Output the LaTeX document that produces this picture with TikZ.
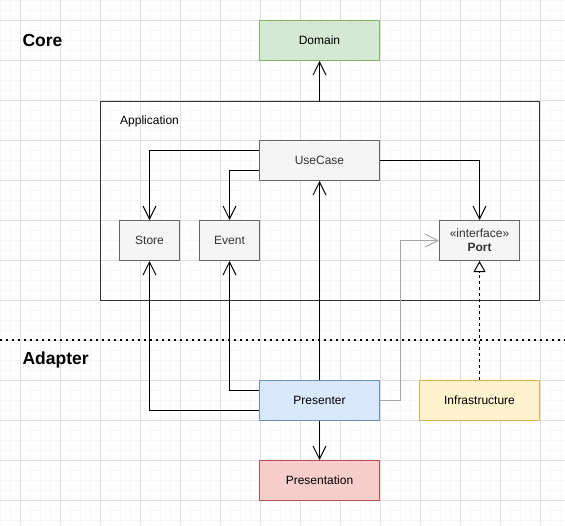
\documentclass[tikz,border=0pt]{standalone}
\usepackage{fontspec}
\setmainfont{Liberation Sans}
\usetikzlibrary{arrows.meta,calc}

\definecolor{gridminor}{HTML}{F7F7F7}
\definecolor{gridmajor}{HTML}{E0E0E0}
\definecolor{greenfill}{HTML}{D5E8D4}
\definecolor{greenline}{HTML}{82B366}
\definecolor{grayfill}{HTML}{F5F5F5}
\definecolor{grayline}{HTML}{666666}
\definecolor{bluefill}{HTML}{DAE8FC}
\definecolor{blueline}{HTML}{6C8EBF}
\definecolor{yellowfill}{HTML}{FFF2CC}
\definecolor{yellowline}{HTML}{D6B656}
\definecolor{redfill}{HTML}{F8CECC}
\definecolor{redline}{HTML}{B85450}
\definecolor{darktext}{HTML}{333333}
\definecolor{weakline}{HTML}{A6A6A6}

\begin{document}
\begin{tikzpicture}[x=1pt,y=-1pt,
  box/.style={draw, line width=1pt, minimum width=120pt, minimum height=40pt,
    inner sep=0pt, font=\fontsize{12}{14}\selectfont},
  plain/.style={box, fill=grayfill, draw=grayline, text=darktext},
  title/.style={font=\fontsize{17.5}{20}\selectfont\bfseries, anchor=west},
  dep/.style={line width=1pt, -{Straight Barb[length=13pt,width=13pt]}},
  impl/.style={line width=1pt, dash pattern=on 3pt off 3pt,
    -{Triangle[length=11pt,width=12pt,fill=white]}}]
  \useasboundingbox (0,0) rectangle (565,525);

  % Grid
  \fill[white] (0,0) rectangle (565,525);
  \foreach \gx in {0,10,...,560}
    \draw[gridminor, line width=1pt] (\gx,0) -- (\gx,525);
  \foreach \gy in {0,10,...,520}
    \draw[gridminor, line width=1pt] (0,\gy) -- (565,\gy);
  \foreach \gx in {20,60,...,540}
    \draw[gridmajor, line width=1pt] (\gx,0) -- (\gx,525);
  \foreach \gy in {20,60,...,500}
    \draw[gridmajor, line width=1pt] (0,\gy) -- (565,\gy);

  % Layer titles and separator
  \node[title] (core) at (19,40) {Core};
  \node[title] (adapter) at (19,360) {Adapter};
  \draw[line width=2pt, dash pattern=on 2pt off 4pt] (0,340) -- (565,340);

  % Application container
  \node[draw=darktext, line width=1pt, minimum width=439pt, minimum height=199pt,
    inner sep=0pt] (app) at (319.5,200.5) {};
  \node[anchor=west, inner sep=0pt, font=\fontsize{12}{14}\selectfont] (applabel)
    at (120,121) {Application};

  % Core nodes
  \node[box, fill=greenfill, draw=greenline] (domain) at (319.5,40.5) {Domain};
  \node[plain] (usecase) at (319.5,160.5) {UseCase};
  \node[plain, minimum width=60pt] (store) at (149.5,240.5) {Store};
  \node[plain, minimum width=60pt] (event) at (229.5,240.5) {Event};
  \node[plain, minimum width=80pt, align=center] (port) at (479.5,240.5)
    {«interface»\\\textbf{Port}};

  % Adapter nodes
  \node[box, fill=bluefill, draw=blueline] (presenter) at (319.5,400.5) {Presenter};
  \node[box, fill=yellowfill, draw=yellowline] (infra) at (479.5,400.5) {Infrastructure};
  \node[box, fill=redfill, draw=redline] (presentation) at (319.5,480.5) {Presentation};

  % Dependencies inside the core
  \draw[dep] (app.north) -- (domain.south);
  \draw[dep] ($(usecase.north west)!0.25!(usecase.south west)$) -| (store.north);
  \draw[dep] ($(usecase.north west)!0.75!(usecase.south west)$) -| (event.north);
  \draw[dep] (usecase.east) -| (port.north);

  % Dependencies from the adapters
  \draw[dep] (presenter.north) -- (usecase.south);
  \draw[dep] ($(presenter.north west)!0.25!(presenter.south west)$) -| (event.south);
  \draw[dep] ($(presenter.north west)!0.75!(presenter.south west)$) -| (store.south);
  \draw[dep, weakline] (presenter.east) -- ++(20,0) |- (port.west);
  \draw[impl] (infra.north) -- (port.south);
  \draw[dep] (presenter.south) -- (presentation.north);

\end{tikzpicture}
\end{document}
